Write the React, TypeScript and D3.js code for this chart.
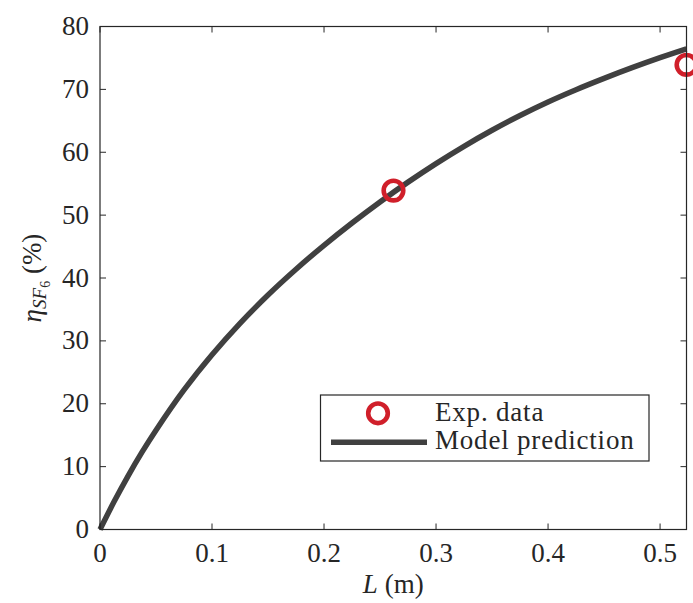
import React from 'react'
import * as d3 from 'd3'

// model curve
const lengths = [0, 0.0125, 0.025, 0.0375, 0.05, 0.075, 0.1, 0.125, 0.15, 0.175, 0.2, 0.225, 0.25, 0.275, 0.3, 0.325, 0.35, 0.375, 0.4, 0.425, 0.45, 0.475, 0.5, 0.5236]
const modelEff = [0, 4.4, 8.5, 12.3, 15.8, 22.2, 27.8, 32.8, 37.3, 41.4, 45.2, 48.75, 52.1, 55.25, 58.2, 60.95, 63.5, 65.85, 68.0, 69.95, 71.75, 73.45, 75.05, 76.45]

// experimental points
const expL = [0.262, 0.5236]
const expEff = [53.9, 73.9]

const xTicks = [0, 0.1, 0.2, 0.3, 0.4, 0.5]
const yTicks = [0, 10, 20, 30, 40, 50, 60, 70, 80]

const W = 693, H = 603
const margin = { left: 100, right: 6.5, top: 26.5, bottom: 73.5 }
const font = '"Liberation Serif", "Times New Roman", serif'
const axisCol = '#262626'
const lineCol = '#404040'
const red = '#d01f2a'

export default function App() {
  const x = d3.scaleLinear().domain([0, 0.5236]).range([margin.left, W - margin.right])
  const y = d3.scaleLinear().domain([0, 80]).range([H - margin.bottom, margin.top])
  const x0 = x.range()[0], x1 = x.range()[1]
  const y0 = y.range()[0], y1 = y.range()[1]

  const line = d3.line<number>()
    .x((d, i) => x(lengths[i]))
    .y(d => y(d))
    .curve(d3.curveCatmullRom)

  const tl = 6
  return (
    <svg width={W} height={H} style={{ position: 'absolute', left: 0, top: 0, background: '#fff' }} fontFamily={font}>
      <rect x={0} y={0} width={W} height={H} fill="#fff" />
      <path d={line(modelEff) || ''} fill="none" stroke={lineCol} strokeWidth={5.5} />
      {expL.map((l, i) => (
        <circle key={i} cx={x(l)} cy={y(expEff[i])} r={9.8} fill="none" stroke={red} strokeWidth={4.6} />
      ))}
      {/* box */}
      <rect x={x0} y={y1} width={x1 - x0} height={y0 - y1} fill="none" stroke={axisCol} strokeWidth={1.2} />
      {xTicks.map(t => (
        <g key={'x' + t}>
          <line x1={x(t)} x2={x(t)} y1={y0} y2={y0 - tl} stroke={axisCol} strokeWidth={1} />
          <line x1={x(t)} x2={x(t)} y1={y1} y2={y1 + tl} stroke={axisCol} strokeWidth={1} />
          <text x={x(t)} y={562} textAnchor="middle" fontSize={27} fill={axisCol}>{t}</text>
        </g>
      ))}
      {yTicks.map(t => (
        <g key={'y' + t}>
          <line x1={x0} x2={x0 + tl} y1={y(t)} y2={y(t)} stroke={axisCol} strokeWidth={1} />
          <line x1={x1} x2={x1 - tl} y1={y(t)} y2={y(t)} stroke={axisCol} strokeWidth={1} />
          <text x={89} y={y(t) + 8.5} textAnchor="end" fontSize={27} fill={axisCol}>{t}</text>
        </g>
      ))}
      {/* axis titles */}
      <text x={(x0 + x1) / 2} y={593} textAnchor="middle" fontSize={27} fill={axisCol}>
        <tspan fontStyle="italic">L</tspan> (m)
      </text>
      <text transform={`translate(41, ${(y0 + y1) / 2}) rotate(-90)`} textAnchor="middle" fontSize={27} fill={axisCol}>
        <tspan fontStyle="italic">η</tspan>
        <tspan fontStyle="italic" fontSize={19} dy={5}>SF</tspan>
        <tspan fontSize={14} dy={4}>6</tspan>
        <tspan dy={-9}> (%)</tspan>
      </text>
      {/* legend */}
      <rect x={320.5} y={395} width={328.5} height={66} fill="#fff" stroke={axisCol} strokeWidth={1.2} />
      <circle cx={378} cy={413.3} r={9.8} fill="none" stroke={red} strokeWidth={4.6} />
      <text x={435} y={420.5} fontSize={27} fill={axisCol} letterSpacing={0.8}>Exp. data</text>
      <line x1={331} x2={427} y1={442.3} y2={442.3} stroke={lineCol} strokeWidth={5.5} />
      <text x={435} y={449} fontSize={27} fill={axisCol} letterSpacing={0.8}>Model prediction</text>
    </svg>
  )
}
